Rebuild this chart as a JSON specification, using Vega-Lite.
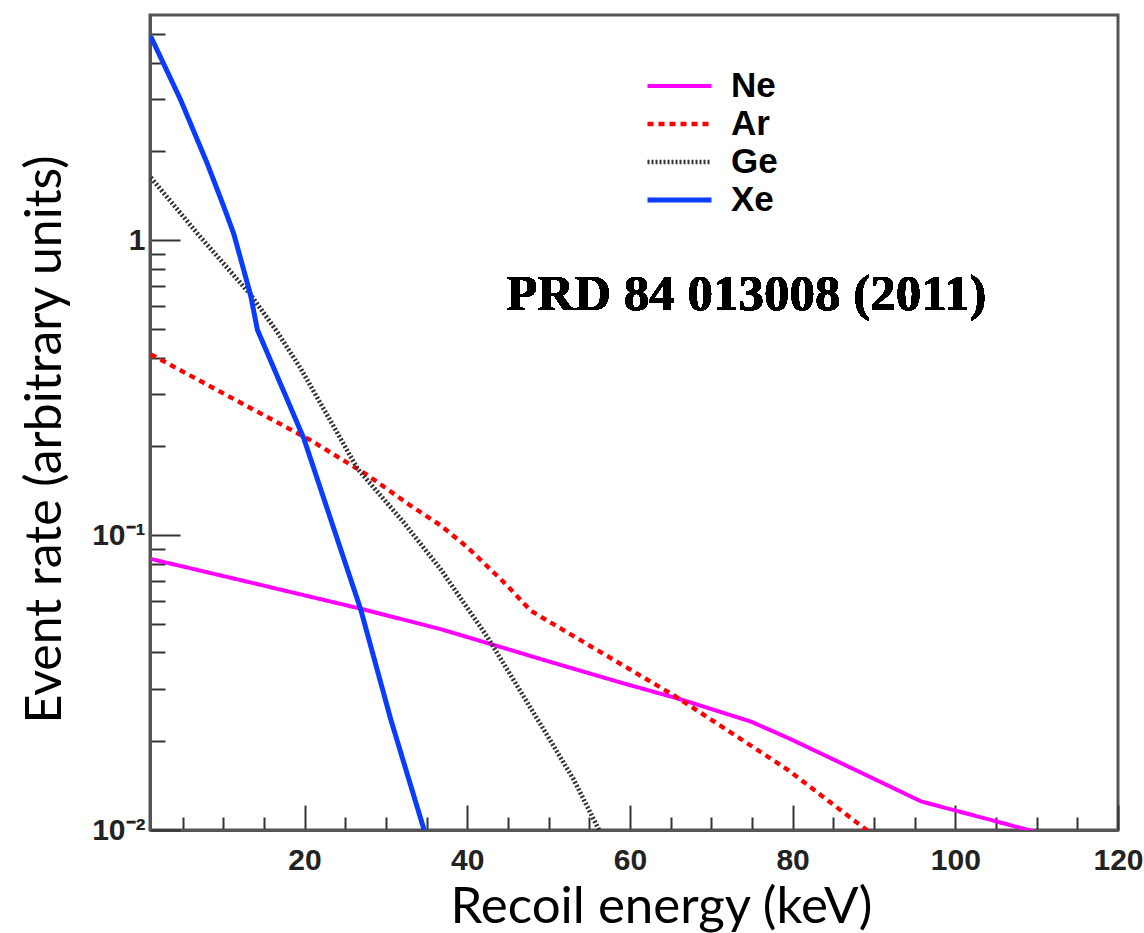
{
  "$schema": "https://vega.github.io/schema/vega-lite/v6.json",
  "width": 968,
  "height": 815,
  "autosize": {"type": "none"},
  "padding": {"left": 150, "top": 15, "right": 26, "bottom": 103},
  "background": "white",
  "data": {
    "values": [
      {"el": "Ne", "E": 1.1, "rate": 0.083},
      {"el": "Ne", "E": 14, "rate": 0.0684},
      {"el": "Ne", "E": 27.1, "rate": 0.0561},
      {"el": "Ne", "E": 36.7, "rate": 0.048},
      {"el": "Ne", "E": 42.9, "rate": 0.0427},
      {"el": "Ne", "E": 50, "rate": 0.0373},
      {"el": "Ne", "E": 58.9, "rate": 0.0316},
      {"el": "Ne", "E": 66.3, "rate": 0.0277},
      {"el": "Ne", "E": 74.9, "rate": 0.0233},
      {"el": "Ne", "E": 79.8, "rate": 0.0203},
      {"el": "Ne", "E": 85.1, "rate": 0.0173},
      {"el": "Ne", "E": 95.8, "rate": 0.0125},
      {"el": "Ne", "E": 110.2, "rate": 0.0098},
      {"el": "Ar", "E": 1.1, "rate": 0.41},
      {"el": "Ar", "E": 14.2, "rate": 0.262},
      {"el": "Ar", "E": 20.7, "rate": 0.21},
      {"el": "Ar", "E": 27.7, "rate": 0.16},
      {"el": "Ar", "E": 33, "rate": 0.126},
      {"el": "Ar", "E": 36.7, "rate": 0.108},
      {"el": "Ar", "E": 40, "rate": 0.091},
      {"el": "Ar", "E": 44.9, "rate": 0.0675},
      {"el": "Ar", "E": 47.8, "rate": 0.0554},
      {"el": "Ar", "E": 56, "rate": 0.0407},
      {"el": "Ar", "E": 65.5, "rate": 0.0285},
      {"el": "Ar", "E": 74.9, "rate": 0.0193},
      {"el": "Ar", "E": 79.4, "rate": 0.016},
      {"el": "Ar", "E": 89.3, "rate": 0.0099},
      {"el": "Ge", "E": 1.1, "rate": 1.63},
      {"el": "Ge", "E": 7, "rate": 1.04},
      {"el": "Ge", "E": 13.35, "rate": 0.654},
      {"el": "Ge", "E": 16.6, "rate": 0.49},
      {"el": "Ge", "E": 19.5, "rate": 0.368},
      {"el": "Ge", "E": 24.4, "rate": 0.213},
      {"el": "Ge", "E": 26.5, "rate": 0.168},
      {"el": "Ge", "E": 32, "rate": 0.112},
      {"el": "Ge", "E": 36.7, "rate": 0.0768},
      {"el": "Ge", "E": 42.5, "rate": 0.045},
      {"el": "Ge", "E": 49.9, "rate": 0.0208},
      {"el": "Ge", "E": 53.1, "rate": 0.0148},
      {"el": "Ge", "E": 56.2, "rate": 0.01},
      {"el": "Xe", "E": 1.1, "rate": 4.9},
      {"el": "Xe", "E": 4.74, "rate": 3.0},
      {"el": "Xe", "E": 8.0, "rate": 1.83},
      {"el": "Xe", "E": 10.07, "rate": 1.3},
      {"el": "Xe", "E": 11.3, "rate": 1.05},
      {"el": "Xe", "E": 13.35, "rate": 0.654},
      {"el": "Xe", "E": 14.2, "rate": 0.497},
      {"el": "Xe", "E": 19.9, "rate": 0.213},
      {"el": "Xe", "E": 26.9, "rate": 0.056},
      {"el": "Xe", "E": 30.6, "rate": 0.0237},
      {"el": "Xe", "E": 34.7, "rate": 0.01}
    ]
  },
  "layer": [
    {
      "mark": {"type": "line", "clip": true, "strokeCap": "butt", "strokeJoin": "round"},
      "encoding": {
        "x": {
          "field": "E",
          "type": "quantitative",
          "scale": {"domain": [1, 120], "nice": false, "zero": false},
          "axis": {
            "values": [5, 10, 15, 20, 25, 30, 35, 40, 45, 50, 55, 60, 65, 70, 75, 80, 85, 90, 95, 100, 105, 110, 115, 120],
            "labelExpr": "datum.value % 20 === 0 ? datum.label : ''",
            "tickSize": {"condition": {"test": "datum.value % 20 === 0", "value": -25}, "value": -13},
            "labelPadding": 40,
            "labelFlush": false,
            "labelOverlap": false,
            "title": "Recoil energy (keV)",
            "titleX": 511,
            "titleY": 92,
            "titleBaseline": "alphabetic",
            "titleAlign": "center"
          }
        },
        "y": {
          "field": "rate",
          "type": "quantitative",
          "scale": {"type": "log", "domain": [0.01, 5.8], "nice": false},
          "axis": {
            "values": [0.01, 0.02, 0.03, 0.04, 0.05, 0.06, 0.07, 0.08, 0.09, 0.1, 0.2, 0.3, 0.4, 0.5, 0.6, 0.7, 0.8, 0.9, 1, 2, 3, 4, 5],
            "labelExpr": "datum.value == 1 ? '1' : (datum.value == 0.1 ? '10⁻¹' : (datum.value == 0.01 ? '10⁻²' : ''))",
            "tickSize": {"condition": {"test": "datum.value == 1 || datum.value == 0.1 || datum.value == 0.01", "value": -30}, "value": -15},
            "labelPadding": 35,
            "labelOverlap": false,
            "title": "Event rate (arbitrary units)",
            "titleX": -90,
            "titleY": 424,
            "titleAngle": -90,
            "titleFontSize": 50,
            "titleBaseline": "alphabetic",
            "titleAlign": "center"
          }
        },
        "color": {
          "field": "el",
          "type": "nominal",
          "scale": {"domain": ["Ne", "Ar", "Ge", "Xe"], "range": ["#ff00ff", "#ff0000", "#333333", "#0a3cff"]},
          "legend": {"title": null}
        },
        "strokeDash": {
          "field": "el",
          "type": "nominal",
          "scale": {"domain": ["Ne", "Ar", "Ge", "Xe"], "range": [[1, 0], [6, 5], [2, 2], [1, 0]]},
          "legend": {"title": null}
        },
        "strokeWidth": {
          "field": "el",
          "type": "nominal",
          "scale": {"domain": ["Ne", "Ar", "Ge", "Xe"], "range": [4, 5, 3, 5]},
          "legend": null
        }
      }
    },
    {
      "mark": {"type": "text", "font": "Liberation Serif", "fontWeight": "bold", "fontSize": 51, "align": "center", "baseline": "alphabetic", "text": "PRD 84 013008 (2011)", "color": "#000"},
      "encoding": {
        "x": {"datum": 74.3, "type": "quantitative"},
        "y": {"datum": 0.58, "type": "quantitative"}
      }
    }
  ],
  "config": {
    "view": {"stroke": "#555", "strokeWidth": 3},
    "axis": {
      "grid": false,
      "domainColor": "#555",
      "domainWidth": 3,
      "tickColor": "#333",
      "tickWidth": 2,
      "labelFont": "Liberation Sans",
      "labelFontWeight": "bold",
      "labelFontSize": 30,
      "labelColor": "#222",
      "titleFont": "Lato",
      "titleFontSize": 51,
      "titleFontWeight": "normal",
      "titleColor": "#000"
    },
    "legend": {
      "orient": "none",
      "legendX": 495,
      "legendY": 52,
      "symbolType": "stroke",
      "symbolSize": 4096,
      "symbolStrokeWidth": 5,
      "clipHeight": 38,
      "labelFont": "Liberation Sans",
      "labelFontWeight": "bold",
      "labelFontSize": 35,
      "labelColor": "#000",
      "labelOffset": 17,
      "rowPadding": 0
    }
  }
}
